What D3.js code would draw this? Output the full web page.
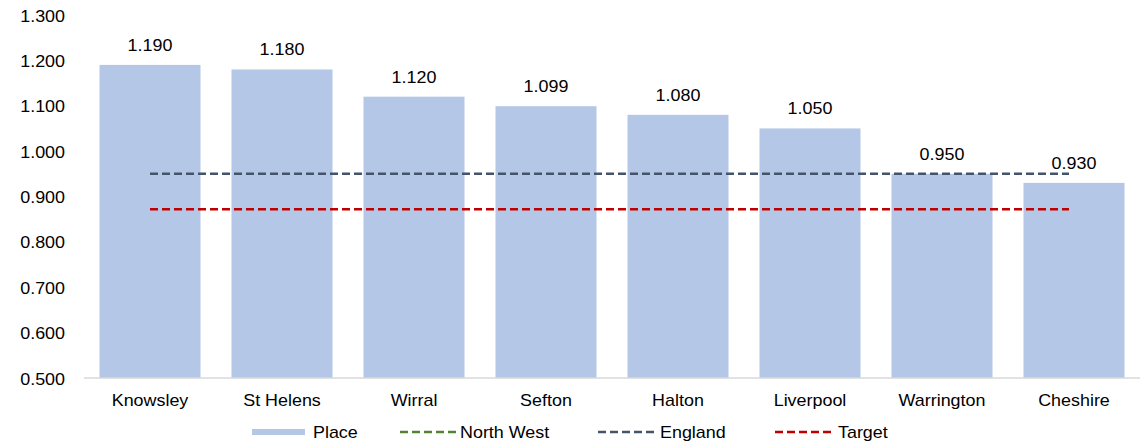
<!DOCTYPE html>
<html>
<head>
<meta charset="utf-8">
<script src="https://cdn.jsdelivr.net/npm/d3@7"></script>
<style>
  html, body { margin: 0; padding: 0; background: #fff; }
  svg text { font-family: "Liberation Sans", Arial, sans-serif; fill: #000; }
</style>
</head>
<body>
<svg id="chart" width="1145" height="444"></svg>
<script>
// Values per place, with comparator reference lines
const places = ["Knowsley", "St Helens", "Wirral", "Sefton", "Halton", "Liverpool", "Warrington", "Cheshire"];
const placeValues = [1.190, 1.180, 1.120, 1.099, 1.080, 1.050, 0.950, 0.930];
const englandValue = 0.950;
const targetValue = 0.872;
const yTicks = [0.5, 0.6, 0.7, 0.8, 0.9, 1.0, 1.1, 1.2, 1.3];
const legendItems = ["Place", "North West", "England", "Target"];

const colors = { place: "#B4C7E7", northWest: "#548235", england: "#44546A", target: "#C00000" };

const svg = d3.select("#chart");
const plot = { left: 84, right: 1140, top: 15, bottom: 378 };

const x = d3.scaleBand().domain(places).range([plot.left, plot.right])
  .paddingInner(0.235).paddingOuter(0.1175);
const y = d3.scaleLinear().domain([0.5, 1.3]).range([plot.bottom, plot.top]);

const fmt = d3.format(".3f");
const SX = 1.12; // horizontal stretch of text

function stretchedText(sel, px, py) {
  return sel.attr("transform", `translate(${px},${py}) scale(${SX},1)`);
}

// bars
svg.append("g").selectAll("rect").data(places).join("rect")
  .attr("x", d => x(d))
  .attr("width", x.bandwidth())
  .attr("y", (d, i) => y(placeValues[i]))
  .attr("height", (d, i) => y(0.5) - y(placeValues[i]))
  .attr("fill", colors.place);

// reference lines from first to last category centre
const lineX0 = x(places[0]) + x.bandwidth() / 2;
const lineX1 = x(places[places.length - 1]) + x.bandwidth() / 2 - 5;
[[englandValue, colors.england], [targetValue, colors.target]].forEach(([v, c]) => {
  svg.append("line")
    .attr("x1", lineX0).attr("x2", lineX1)
    .attr("y1", y(v)).attr("y2", y(v))
    .attr("stroke", c).attr("stroke-width", 2.6)
    .attr("stroke-dasharray", "8,4");
});

// data labels
svg.append("g").selectAll("text").data(places).join("text")
  .each(function(d, i) {
    stretchedText(d3.select(this), x(d) + x.bandwidth() / 2, y(placeValues[i]) - 14);
  })
  .attr("text-anchor", "middle")
  .attr("font-size", 16)
  .text((d, i) => fmt(placeValues[i]));

// y axis (tick groups are already positioned by the axis)
const yAxis = svg.append("g").attr("transform", `translate(${plot.left},0)`)
  .call(d3.axisLeft(y).tickValues(yTicks).tickFormat(fmt).tickSize(0).tickPadding(0));
yAxis.select(".domain").remove();
yAxis.selectAll("text").attr("font-size", 16).attr("x", null).attr("dy", null)
  .each(function() { stretchedText(d3.select(this), 65 - plot.left, 6); })
  .attr("text-anchor", "end");

// x axis
const xAxis = svg.append("g").attr("transform", `translate(0,${plot.bottom})`)
  .call(d3.axisBottom(x).tickSize(0).tickPadding(0));
xAxis.select(".domain").attr("stroke", "#D9D9D9").attr("stroke-width", 1.5)
  .attr("d", `M${plot.left},0H${plot.right}`);
xAxis.selectAll("text").attr("font-size", 16).attr("y", null).attr("dy", null)
  .each(function() { stretchedText(d3.select(this), 0, 28); })
  .attr("text-anchor", "middle");

// legend
const legend = svg.append("g");
const legendY = 432;
const entries = [
  { name: legendItems[0], type: "box", color: colors.place, x0: 252, x1: 305, tx: 313 },
  { name: legendItems[1], type: "dash", color: colors.northWest, x0: 400, x1: 457, tx: 460 },
  { name: legendItems[2], type: "dash", color: colors.england, x0: 598, x1: 657, tx: 660 },
  { name: legendItems[3], type: "dash", color: colors.target, x0: 775, x1: 834, tx: 838 }
];
entries.forEach(e => {
  if (e.type === "box") {
    legend.append("rect").attr("x", e.x0).attr("y", legendY - 3).attr("width", e.x1 - e.x0).attr("height", 6).attr("fill", e.color);
  } else {
    legend.append("line").attr("x1", e.x0).attr("x2", e.x1).attr("y1", legendY).attr("y2", legendY)
      .attr("stroke", e.color).attr("stroke-width", 2.6).attr("stroke-dasharray", "8,4");
  }
  stretchedText(legend.append("text"), e.tx, legendY + 6).attr("font-size", 16).text(e.name);
});
</script>
</body>
</html>
